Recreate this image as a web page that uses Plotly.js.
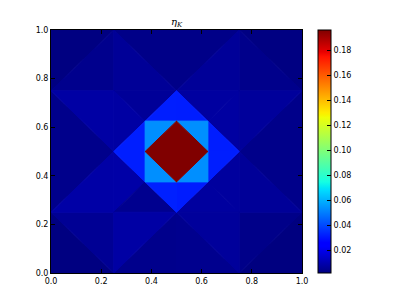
<!DOCTYPE html>
<html>
<head>
<meta charset="utf-8">
<script src="https://cdn.plot.ly/plotly-3.0.1.min.js"></script>
<style>
  html, body { margin: 0; padding: 0; background: #fff; }
  #container { width: 407px; height: 305px; }
</style>
</head>
<body>
<div id="container"></div>
<script>
// mesh vertices (unit square, refined towards the centre)
var vx = [0, 0.25, 0.5, 0.75, 1, 0, 0.25, 0.5, 0.75, 1, 0, 0.25, 0.5, 0.75, 1,
          0, 0.25, 0.5, 0.75, 1, 0, 0.25, 0.5, 0.75, 1,
          0.375, 0.625, 0.375, 0.625, 0.5, 0.625, 0.5, 0.375];
var vy = [0, 0, 0, 0, 0, 0.25, 0.25, 0.25, 0.25, 0.25, 0.5, 0.5, 0.5, 0.5, 0.5,
          0.75, 0.75, 0.75, 0.75, 0.75, 1, 1, 1, 1, 1,
          0.375, 0.375, 0.625, 0.625, 0.375, 0.5, 0.625, 0.5];

// triangles (vertex indices)
var triA = [0, 4, 20, 24,  1, 2, 21, 22, 5, 10, 9, 14,
            21, 21, 17, 11, 15,  23, 23, 17, 13, 19,  5, 5, 11, 7, 1,  9, 9, 13, 7, 3,
            17, 17, 13, 13, 7, 7, 11, 11,  27, 28, 26, 25,  31, 30, 29, 32];
var triB = [1, 9, 15, 23,  2, 3, 22, 23, 10, 15, 14, 19,
            15, 16, 16, 16, 11,  19, 18, 18, 18, 13,  1, 6, 6, 6, 7,  3, 8, 8, 8, 7,
            27, 31, 28, 30, 26, 29, 25, 32,  32, 31, 30, 29,  30, 29, 32, 31];
var triC = [5, 3, 21, 19,  7, 7, 17, 17, 11, 11, 13, 13,
            16, 17, 27, 27, 16,  18, 17, 28, 28, 18,  6, 11, 25, 25, 6,  8, 13, 26, 26, 8,
            31, 28, 30, 26, 29, 25, 32, 27,  31, 30, 29, 32,  12, 12, 12, 12];

// error indicator eta_K on each triangle
var eta = [0.0022, 0.0021, 0.0023, 0.0024,  0.0041, 0.0044, 0.0035, 0.0035, 0.0040, 0.0040, 0.0038, 0.0038,
           0.0042, 0.0060, 0.0062, 0.0080, 0.0081,  0.0040, 0.0062, 0.0075, 0.0076, 0.0066,
           0.0055, 0.0084, 0.0086, 0.0046, 0.0082,  0.0036, 0.0062, 0.0072, 0.0073, 0.0066,
           0.0320, 0.0318, 0.0318, 0.0320, 0.0316, 0.0325, 0.0321, 0.0321,
           0.0536, 0.0536, 0.0536, 0.0536,  0.1960, 0.1960, 0.1960, 0.1960];

var cbTicks = [0.02, 0.04, 0.06, 0.08, 0.10, 0.12, 0.14, 0.16, 0.18];
var axTicks = [0, 0.2, 0.4, 0.6, 0.8, 1.0];

// matplotlib "jet"
var jetStops = [
  [0, [0, 0, 128]], [0.11, [0, 0, 255]], [0.125, [0, 0, 255]], [0.34, [0, 219, 255]],
  [0.35, [0, 230, 247]], [0.375, [21, 255, 226]], [0.64, [239, 255, 8]], [0.65, [247, 245, 0]],
  [0.66, [255, 236, 0]], [0.89, [255, 19, 0]], [0.91, [232, 0, 0]], [1, [128, 0, 0]]
];
function rgb(c) { return "rgb(" + c.map(Math.round).join(",") + ")"; }
var jetScale = jetStops.map(function(s) { return [s[0], rgb(s[1])]; });

function jet(t) {
  t = Math.max(0, Math.min(1, t));
  for (var i = 1; i < jetStops.length; i++) {
    if (t <= jetStops[i][0]) {
      var a = jetStops[i - 1], b = jetStops[i];
      var f = (t - a[0]) / (b[0] - a[0]);
      return rgb(a[1].map(function(v, k) { return v + f * (b[1][k] - v); }));
    }
  }
  return rgb(jetStops[jetStops.length - 1][1]);
}

var vmin = Math.min.apply(null, eta);
var vmax = Math.max.apply(null, eta);

var traces = [];
var cx = [], cy = [];
for (var t = 0; t < eta.length; t++) {
  var ids = [triA[t], triB[t], triC[t], triA[t]];
  var col = jet((eta[t] - vmin) / (vmax - vmin));
  traces.push({
    type: "scatter", mode: "lines",
    x: ids.map(function(i) { return vx[i]; }),
    y: ids.map(function(i) { return vy[i]; }),
    fill: "toself", fillcolor: col,
    line: { color: col, width: 1 },
    hoverinfo: "skip", showlegend: false
  });
  cx.push((vx[triA[t]] + vx[triB[t]] + vx[triC[t]]) / 3);
  cy.push((vy[triA[t]] + vy[triB[t]] + vy[triC[t]]) / 3);
}

// invisible centroid markers carry the colour bar
traces.push({
  type: "scatter", mode: "markers", x: cx, y: cy, showlegend: false, hoverinfo: "skip",
  marker: {
    color: eta, cmin: vmin, cmax: vmax, colorscale: jetScale, opacity: 0, size: 1,
    showscale: true,
    colorbar: {
      x: 1.064, xanchor: "left", xpad: 0, y: 1, yanchor: "top", ypad: 0,
      thickness: 13, lenmode: "pixels", len: 243,
      outlinewidth: 1, outlinecolor: "#000",
      tickvals: cbTicks, ticktext: cbTicks.map(function(v) { return v.toFixed(2); }),
      ticks: "inside", ticklen: 4, tickcolor: "#000",
      tickfont: { size: 8, color: "#000" }
    }
  }
});

var axis = {
  range: [0, 1], tickvals: axTicks, ticktext: axTicks.map(function(v) { return v.toFixed(1); }),
  ticks: "inside", ticklen: 4, tickcolor: "#000", mirror: "ticks",
  showline: true, linecolor: "#000", linewidth: 1,
  showgrid: false, zeroline: false, tickfont: { size: 8, color: "#000" }
};

var layout = {
  width: 407, height: 305,
  margin: { l: 51, r: 105, t: 30, b: 32 },
  paper_bgcolor: "#fff", plot_bgcolor: "#fff",
  font: { family: "DejaVu Sans", size: 8, color: "#000" },
  title: { text: "<i>η</i><sub><i>K</i></sub>", x: 0.5, xref: "paper", y: 0.93, yanchor: "middle",
           font: { size: 10, family: "DejaVu Serif" } },
  xaxis: axis,
  yaxis: Object.assign({}, axis)
};

Plotly.newPlot("container", traces, layout, { displayModeBar: false, staticPlot: true });
</script>
</body>
</html>
